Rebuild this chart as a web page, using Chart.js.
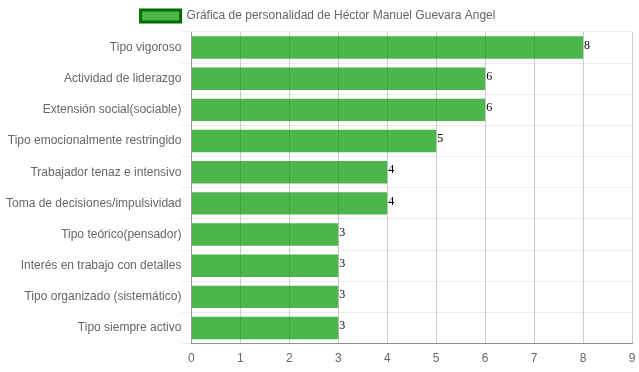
<!DOCTYPE html>
<html>
<head>
<meta charset="utf-8">
<script src="https://cdn.jsdelivr.net/npm/chart.js@4"></script>
<style>
  html, body { margin: 0; padding: 0; background: #fff; }
  #wrap { width: 639px; height: 372px; }
</style>
</head>
<body>
<div id="wrap"><canvas id="chart"></canvas></div>
<script>
// Personality chart - horizontal bars

const categories = [
    'Tipo vigoroso',
    'Actividad de liderazgo',
    'Extensión social(sociable)',
    'Tipo emocionalmente restringido',
    'Trabajador tenaz e intensivo',
    'Toma de decisiones/impulsividad',
    'Tipo teórico(pensador)',
    'Interés en trabajo con detalles',
    'Tipo organizado (sistemático)',
    'Tipo siempre activo'
];
const scores = [8, 6, 6, 5, 4, 4, 3, 3, 3, 3];
const seriesLabel = 'Gráfica de personalidad de Héctor Manuel Guevara Angel';
const xTicks = [0, 1, 2, 3, 4, 5, 6, 7, 8, 9];

Chart.defaults.font.family = '"Liberation Sans", Arial, sans-serif';
Chart.defaults.font.size = 12;
Chart.defaults.color = '#666';

// draws the number at the end of each bar
const valueLabels = {
    id: 'valueLabels',
    afterDatasetsDraw(chart) {
        const ctx = chart.ctx;
        ctx.save();
        ctx.font = '12px "Liberation Serif", "Times New Roman", serif';
        ctx.fillStyle = '#000';
        ctx.textAlign = 'left';
        ctx.textBaseline = 'middle';
        chart.getDatasetMeta(0).data.forEach((bar, i) => {
            ctx.fillText(scores[i], bar.x + 1, bar.y - 2);
        });
        ctx.restore();
    }
};

// nudge the legend a little to the left, like the original
const legendShift = {
    id: 'legendShift',
    afterLayout(chart) {
        if (chart.legend) {
            chart.legend.left -= 1;
            chart.legend.right -= 1;
        }
    }
};

new Chart(document.getElementById('chart'), {
    type: 'bar',
    data: {
        labels: categories,
        datasets: [{
            label: seriesLabel,
            data: scores,
            backgroundColor: 'rgba(0, 150, 0, 0.7)',
            borderColor: 'rgba(0, 120, 0, 1)',
            borderWidth: 0
        }]
    },
    options: {
        indexAxis: 'y',
        responsive: true,
        maintainAspectRatio: false,
        animation: false,
        layout: { padding: { left: 6, right: 7, top: 0, bottom: 6 } },
        plugins: {
            legend: {
                labels: {
                    boxWidth: 40,
                    boxHeight: 12,
                    color: '#666',
                    generateLabels(chart) {
                        return [{
                            text: seriesLabel,
                            fillStyle: 'rgba(0, 150, 0, 0.7)',
                            strokeStyle: 'rgba(0, 110, 0, 1)',
                            lineWidth: 3,
                            datasetIndex: 0,
                            fontColor: '#666'
                        }];
                    }
                }
            },
            tooltip: { enabled: false }
        },
        scales: {
            x: {
                min: 0,
                max: 9,
                afterBuildTicks(axis) {
                    axis.ticks = xTicks.map(v => ({ value: v }));
                },
                grid: {
                    color: 'rgba(0, 0, 0, 0.2)',
                    tickLength: 8,
                    tickColor: 'rgba(0, 0, 0, 0)'
                },
                border: { color: 'rgba(0, 0, 0, 0.4)' },
                ticks: { color: '#666', padding: 0 }
            },
            y: {
                grid: {
                    color: 'rgba(0, 0, 0, 0.07)',
                    tickLength: 10
                },
                border: { color: 'rgba(0, 0, 0, 0.25)' },
                ticks: { color: '#666', padding: 0 }
            }
        }
    },
    plugins: [valueLabels, legendShift]
});
</script>
</body>
</html>
